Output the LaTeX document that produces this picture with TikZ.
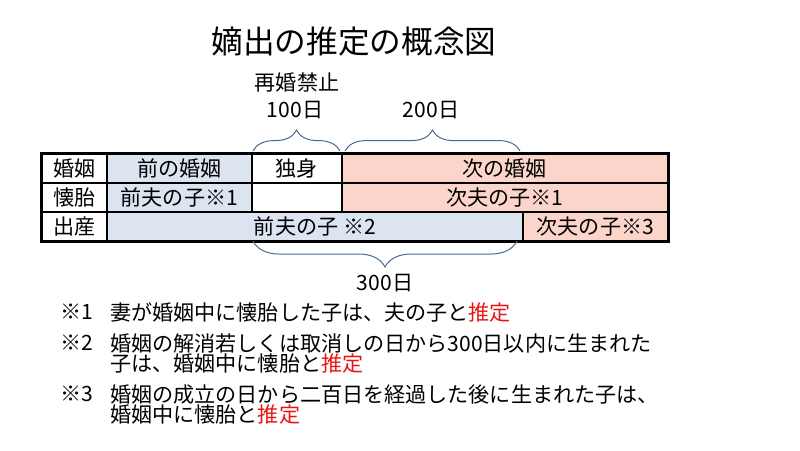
\documentclass[tikz,border=0pt]{standalone}
\usepackage{fontspec}
\setmainfont{Noto Sans CJK JP}
\usepackage{xcolor}
\usepackage{tikz}
\usetikzlibrary{shapes, decorations.pathreplacing, positioning}
\definecolor{maeblue}{RGB}{220,228,240}
\definecolor{tsugipink}{RGB}{251,213,202}
\definecolor{kakkoblue}{RGB}{70,105,145}
\definecolor{suiteired}{RGB}{232,20,20}
\tikzstyle{cell}=[draw, rectangle, line width=1.2pt, anchor=north west, inner sep=0pt, minimum height=0.725cm, font=\fontsize{15}{16}\selectfont]
\tikzstyle{kakko}=[decorate, decoration={brace, amplitude=0.52cm}, draw=kakkoblue, line width=0.7pt]
\tikzstyle{label}=[font=\fontsize{15}{16}\selectfont]
\tikzstyle{note}=[anchor=west, inner sep=0pt, align=left, font=\fontsize{15}{14.3}\selectfont]
\def\suitei{\textcolor{suiteired}{推定}}

\begin{document}
\begin{tikzpicture}[x=0.025cm, y=-0.025cm]
		\useasboundingbox (0,0) rectangle (800,450);
		\node[font=\fontsize{22.5}{26}\selectfont] (title) at (354,42) {嫡出の推定の概念図};
		% table
		\node[cell, minimum width=1.625cm] (konin) at (41,153) {婚姻};
		\node[cell, fill=maeblue, minimum width=3.625cm] (maekonin) at (106,153) {前の婚姻};
		\node[cell, minimum width=2.25cm] (dokushin) at (251,153) {独身};
		\node[cell, fill=tsugipink, minimum width=8.15cm] (tsugikonin) at (341,153) {次の婚姻};
		\node[cell, minimum width=1.625cm] (kaitai) at (41,182) {懐胎};
		\node[cell, fill=maeblue, minimum width=3.625cm] (maeko1) at (106,182) {前夫の子※1};
		\node[cell, minimum width=2.25cm] (kuhaku) at (251,182) {};
		\node[cell, fill=tsugipink, minimum width=8.15cm] (tsugiko1) at (341,182) {次夫の子※1};
		\node[cell, minimum width=1.625cm] (shussan) at (41,211) {出産};
		\node[cell, fill=maeblue, minimum width=10.4cm] (maeko2) at (106,211) {前夫の子 ※2};
		\node[cell, fill=tsugipink, minimum width=3.625cm] (tsugiko3) at (522,211) {次夫の子※3};
		\draw[line width=1.6pt] (konin.north west) rectangle (tsugiko3.south east);
		% braces
		\coordinate (s1) at (253,151);
		\coordinate (e1) at (340,151);
		\coordinate (s2) at (345,151);
		\coordinate (e2) at (520,151);
		\coordinate (s3) at (517,241);
		\coordinate (e3) at (253,241);
		\draw[kakko] (s1) -- (e1);
		\draw[kakko] (s2) -- (e2);
		\draw[kakko, decoration={amplitude=0.65cm}] (s3) -- (e3);
		\node[label] (saikon) at (297,82) {再婚禁止};
		\node[label] (hyaku) at (295,110) {100日};
		\node[label] (nihyaku) at (431,110) {200日};
		\node[label] (sanbyaku) at (385,283) {300日};
		% notes
		\node[note] (kome1) at (60,312) {※1};
		\node[note] (chu1) at (110,312) {妻が婚姻中に懐胎した子は、夫の子と\suitei};
		\node[note] (kome2) at (60,343) {※2};
		\node[note, anchor=north west] (chu2) at (110,333) {婚姻の解消若しくは取消しの日から300日以内に生まれた\\子は、婚姻中に懐胎と\suitei};
		\node[note] (kome3) at (60,394) {※3};
		\node[note, anchor=north west] (chu3) at (110,384) {婚姻の成立の日から二百日を経過した後に生まれた子は、\\婚姻中に懐胎と\suitei};
	\end{tikzpicture}
\end{document}
